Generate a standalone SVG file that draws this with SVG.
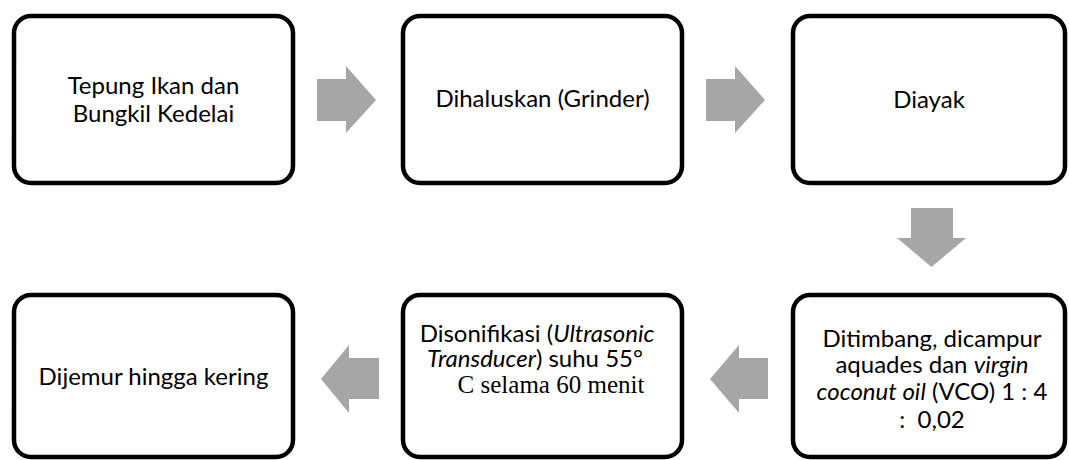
<svg xmlns="http://www.w3.org/2000/svg" width="1069" height="460" viewBox="0 0 1069 460">
<style>
.box{fill:#fff;stroke:#000;stroke-width:4.5}
.arr{fill:#a6a6a6}
text{font-family:Lato,"Open Sans",sans-serif;font-size:24px;fill:#000;text-anchor:middle}
.i{font-style:italic}
.tm{font-family:"Liberation Serif",serif;font-size:25px}
</style>
<rect width="1069" height="460" fill="#fff"/>
<g id="n1"><rect class="box" x="14" y="16" width="279" height="167" rx="17"/>
<text x="153.5" y="94">Tepung Ikan dan</text><text x="153.5" y="122">Bungkil Kedelai</text></g>
<g id="n2"><rect class="box" x="403" y="16" width="279" height="167" rx="17"/>
<text x="542.5" y="107">Dihaluskan (Grinder)</text></g>
<g id="n3"><rect class="box" x="793" y="16" width="272" height="167" rx="17"/>
<text x="929" y="108">Diayak</text></g>
<g id="n4"><rect class="box" x="793" y="295" width="272" height="162" rx="17"/>
<text x="932" y="347">Ditimbang, dicampur</text>
<text x="932" y="373">aquades dan <tspan class="i">virgin</tspan></text>
<text x="932" y="400"><tspan class="i">coconut oil</tspan> (VCO) 1 : 4</text>
<text x="932" y="428" xml:space="preserve">:  0,02</text></g>
<g id="n5"><rect class="box" x="403" y="295" width="279" height="162" rx="17"/>
<text x="537" y="342">Disonifikasi (<tspan class="i">Ultrasonic</tspan></text>
<text x="535" y="367"><tspan class="i">Transducer</tspan>) suhu 55°</text>
<text x="551" y="393" class="tm">C selama 60 menit</text></g>
<g id="n6"><rect class="box" x="14" y="295" width="279" height="162" rx="17"/>
<text x="153.5" y="385">Dijemur hingga kering</text></g>
<g id="connectors">
<polygon class="arr" points="317,79 346,79 346,66 376,100 346,133 346,121 317,121"/>
<polygon class="arr" points="706,79 735,79 735,66 765,100 735,133 735,121 706,121"/>
<polygon class="arr" points="911,208 953,208 953,238 966,238 931.5,267 897,238 911,238"/>
<polygon class="arr" points="768,358 739,358 739,345 710,379 739,413 739,399 768,399"/>
<polygon class="arr" points="379,358 349,358 349,345 321,379 349,413 349,399 379,399"/>
</g>
</svg>
